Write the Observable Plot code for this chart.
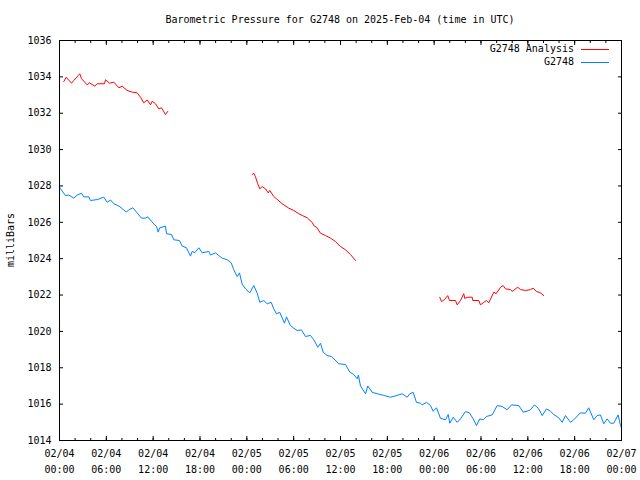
<!DOCTYPE html>
<html><head><meta charset="utf-8">
<script src="https://cdn.jsdelivr.net/npm/d3@7"></script>
<script src="https://cdn.jsdelivr.net/npm/@observablehq/plot@0.6"></script>
<style>
body{margin:0;background:#fff;}
#wrap{position:relative;width:640px;height:480px;font-family:"DejaVu Sans Mono",monospace;font-size:10px;color:#000;background:#fff;}
#chart{position:absolute;left:0;top:0;}
.abs{position:absolute;white-space:nowrap;line-height:12px;}
#title{left:59px;width:562px;top:14px;text-align:center;}
#ylab{left:11px;top:240px;transform:translate(-50%,-50%) rotate(-90deg);}
.legtxt{right:66px;text-align:right;}
.legline{position:absolute;left:581px;width:28px;height:1px;}
</style>
</head><body>
<div id="wrap">
  <div id="chart"></div>
  <div class="abs" id="title"></div>
  <div class="abs" id="ylab"></div>
  <div class="abs legtxt" id="leg1" style="top:43px"></div>
  <div class="legline" id="line1" style="top:49px"></div>
  <div class="abs legtxt" id="leg2" style="top:56px"></div>
  <div class="legline" id="line2" style="top:62px"></div>
</div>
<script>
const titleText = "Barometric Pressure for G2748 on 2025-Feb-04 (time in UTC)";
const yLabel = "milliBars";
const seriesNames = ["G2748 Analysis", "G2748"];
const seriesColors = ["#ff0000", "#0080ff"];
const yTicks = [1014,1016,1018,1020,1022,1024,1026,1028,1030,1032,1034,1036];
const xMajorHours = [0,6,12,18,24,30,36,42,48,54,60,66,72];
const startUTC = Date.UTC(2025, 1, 4);

// Observed station (hours since 02/04 00:00 UTC, mb)
const blueHours = [0,0.13,0.77,1.19,1.83,2.27,2.82,3.11,3.75,3.97,4.83,5.68,6.11,6.53,6.96,7.6,8.58,8.88,9.39,9.95,10.5,11.02,11.31,12.0,12.43,12.64,12.85,13.58,13.71,14.35,14.64,15.37,15.72,16.27,16.78,17.0,17.33,17.85,18.28,19.13,19.34,19.98,20.41,20.84,21.48,22.0,22.33,22.76,23.06,23.4,23.83,24.38,24.89,25.33,25.66,26.17,26.61,27.12,27.45,27.8,28.22,28.82,29.08,29.59,29.94,30.45,31.0,31.51,32.15,32.58,33.09,33.44,33.78,34.29,34.85,35.78,36.64,37.19,37.7,38.14,38.3,38.56,39.2,39.5,40.06,40.7,41.55,42.4,43.26,43.9,44.54,44.88,45.31,45.73,46.25,46.46,47.02,47.53,47.87,48.3,48.81,49.45,49.8,50.0,50.44,50.95,51.37,52.01,52.52,53.0,53.42,53.84,54.28,54.7,55.43,56.07,56.71,57.35,57.9,58.84,59.4,59.91,60.34,60.85,61.4,61.84,62.39,62.9,63.32,63.96,64.4,64.82,65.46,65.88,66.74,67.38,67.8,68.45,68.88,69.3,69.73,70.16,70.58,71.01,71.57,71.87,72.0];
const bluePressure = [1027.95,1027.84,1027.47,1027.5,1027.33,1027.5,1027.6,1027.4,1027.4,1027.2,1027.25,1027.38,1027.1,1027.23,1027.02,1026.9,1026.56,1026.69,1026.8,1026.52,1026.23,1026.23,1026.3,1025.95,1025.77,1025.46,1025.7,1025.79,1025.37,1025.33,1025.04,1025.0,1024.69,1024.6,1024.14,1024.4,1024.33,1024.6,1024.32,1024.4,1024.2,1024.32,1024.17,1024.03,1023.94,1023.77,1023.39,1023.02,1023.22,1022.6,1022.34,1022.12,1022.52,1022.1,1021.6,1021.7,1021.52,1021.6,1021.24,1020.97,1021.05,1020.45,1020.8,1020.32,1020.2,1020.05,1020.08,1019.72,1019.78,1019.54,1019.13,1019.35,1018.86,1018.67,1018.62,1018.22,1018.18,1017.76,1017.63,1017.39,1017.6,1017.0,1016.57,1017.0,1016.65,1016.57,1016.48,1016.38,1016.48,1016.57,1016.38,1016.57,1016.65,1016.1,1016.05,1015.96,1016.1,1015.92,1015.61,1015.8,1015.22,1015.14,1015.43,1014.95,1015.28,1015.0,1015.19,1015.59,1015.52,1015.19,1014.82,1015.19,1015.14,1015.32,1015.41,1015.92,1015.87,1015.69,1015.96,1015.92,1015.56,1015.61,1015.69,1015.96,1015.74,1015.37,1015.74,1015.61,1015.43,1015.25,1015.0,1015.37,1015.0,1015.14,1015.52,1015.5,1015.8,1015.14,1015.37,1015.41,1014.92,1015.19,1014.95,1014.95,1015.41,1014.82,1014.7];

// Analysis segments
const red1Hours = [0.55,0.86,1.54,1.83,2.4,2.6,2.82,3.55,3.84,4.52,4.83,5.76,5.89,6.41,6.96,7.6,8.03,8.67,9.31,9.95,10.38,10.8,11.24,11.66,11.88,12.3,12.72,13.07,13.58,13.87];
const red1Pressure = [1033.74,1033.98,1033.65,1033.8,1034.07,1034.17,1033.9,1033.56,1033.67,1033.49,1033.62,1033.62,1033.84,1033.65,1033.71,1033.4,1033.49,1033.25,1033.16,1033.12,1032.88,1032.57,1032.73,1032.46,1032.66,1032.52,1032.24,1032.3,1031.93,1032.1];
const red2Hours = [24.69,24.89,25.11,25.4,25.66,25.97,26.39,26.74,26.94,27.45,27.8,28.53,29.37,30.02,30.66,31.09,31.73,32.37,32.58,32.92,33.44,34.08,34.72,35.36,36.0,36.64,37.28,37.92];
const red2Pressure = [1028.63,1028.7,1028.5,1028.12,1027.84,1027.97,1027.84,1027.62,1027.75,1027.42,1027.29,1027.02,1026.78,1026.65,1026.47,1026.38,1026.25,1026.0,1025.82,1025.73,1025.4,1025.27,1025.13,1024.94,1024.67,1024.49,1024.23,1023.9];
const red3Hours = [48.72,48.94,49.32,49.74,49.96,50.73,50.95,51.37,51.79,51.92,52.31,52.87,52.95,53.72,53.93,54.36,54.7,54.99,55.64,55.94,56.5,56.84,57.14,57.78,57.99,58.71,59.06,59.7,60.34,60.68,61.1,61.62,62.04];
const red3Pressure = [1021.88,1021.64,1021.75,1021.97,1021.7,1021.7,1021.46,1021.7,1022.07,1021.82,1021.88,1021.88,1021.7,1021.7,1021.46,1021.6,1021.7,1021.57,1022.16,1022.07,1022.43,1022.52,1022.34,1022.3,1022.2,1022.43,1022.3,1022.25,1022.3,1022.38,1022.2,1022.12,1021.97];

const toDate = h => new Date(startUTC + h * 3600e3);
const blue = blueHours.map((h, i) => ({t: toDate(h), p: bluePressure[i]}));
const red = [];
[[red1Hours, red1Pressure], [red2Hours, red2Pressure], [red3Hours, red3Pressure]].forEach(([hs, ps], s) =>
  hs.forEach((h, i) => red.push({t: toDate(h), p: ps[i], seg: s})));

const majorTicks = xMajorHours.map(toDate);
const minorTicks = d3.range(0, 73, 2).map(toDate);
const blank = () => "";

const chart = Plot.plot({
  width: 640, height: 480,
  marginLeft: 59, marginRight: 19, marginTop: 40, marginBottom: 40,
  style: {fontFamily: "DejaVu Sans Mono, monospace", fontSize: "10px", background: "white", color: "black"},
  x: {type: "utc", domain: [toDate(0), toDate(72)]},
  y: {domain: [1014, 1036]},
  marks: [
    Plot.axisY(yTicks, {anchor: "left", tickSize: 0, tickPadding: 8, tickFormat: d3.format("d"), label: null}),
    Plot.axisY(yTicks, {anchor: "left", tickSize: -4, tickFormat: blank, label: null}),
    Plot.axisY(yTicks, {anchor: "right", tickSize: -4, tickFormat: blank, label: null}),
    Plot.axisX(minorTicks, {anchor: "bottom", tickSize: -2, tickFormat: blank, label: null}),
    Plot.axisX(majorTicks, {anchor: "bottom", tickSize: -4, tickFormat: blank, label: null}),
    Plot.axisX(minorTicks, {anchor: "top", tickSize: -2, tickFormat: blank, label: null}),
    Plot.axisX(majorTicks, {anchor: "top", tickSize: -4, tickFormat: blank, label: null}),
    Plot.axisX(majorTicks, {anchor: "bottom", tickSize: 0, tickPadding: 9, tickFormat: d3.utcFormat("%m/%d"), label: null}),
    Plot.axisX(majorTicks, {anchor: "bottom", tickSize: 0, tickPadding: 25, tickFormat: d3.utcFormat("%H:%M"), label: null}),
    Plot.line(red, {x: "t", y: "p", z: "seg", stroke: seriesColors[0], strokeWidth: 1}),
    Plot.line(blue, {x: "t", y: "p", stroke: seriesColors[1], strokeWidth: 1}),
    Plot.frame({stroke: "black"})
  ]
});
document.getElementById("chart").appendChild(chart);
document.getElementById("title").textContent = titleText;
document.getElementById("ylab").textContent = yLabel;
document.getElementById("leg1").textContent = seriesNames[0];
document.getElementById("leg2").textContent = seriesNames[1];
document.getElementById("line1").style.background = seriesColors[0];
document.getElementById("line2").style.background = seriesColors[1];
</script>
</body></html>
